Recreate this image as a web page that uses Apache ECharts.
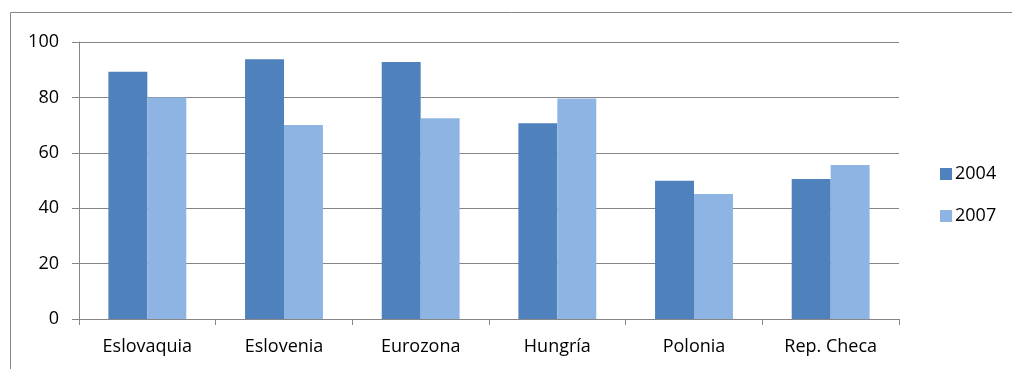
<!DOCTYPE html>
<html>
<head>
<meta charset="utf-8">
<script src="https://cdn.jsdelivr.net/npm/echarts@6/dist/echarts.min.js"></script>
<style>
  html, body { margin: 0; padding: 0; background: #fff; }
  #chart { width: 1012px; height: 369px; }
</style>
</head>
<body>
<div id="chart"></div>
<script>
const categories = ['Eslovaquia', 'Eslovenia', 'Eurozona', 'Hungría', 'Polonia', 'Rep. Checa'];
const values2004 = [89.3, 93.8, 92.8, 70.7, 49.9, 50.5];
const values2007 = [80.0, 70.0, 72.5, 79.6, 45.1, 55.6];
const seriesNames = ['2004', '2007'];

const FONT = 'Open Sans';
const GRID_GRAY = '#868686';

const chart = echarts.init(document.getElementById('chart'), null, { renderer: 'canvas' });

chart.setOption({
  animation: false,
  backgroundColor: '#ffffff',
  textStyle: { fontFamily: FONT },
  graphic: [{
    type: 'rect',
    shape: { x: 10.5, y: 12.5, width: 1100, height: 420 },
    style: { fill: 'none', stroke: GRID_GRAY, lineWidth: 1 },
    silent: true
  }],
  grid: { left: 79, right: 113, top: 42, bottom: 50, containLabel: false },
  legend: {
    orient: 'vertical',
    left: 935,
    top: 160,
    itemWidth: 12,
    itemHeight: 12,
    itemGap: 24,
    icon: 'rect',
    textStyle: { fontFamily: FONT, fontSize: 18, color: '#000', padding: [0, 0, 0, -2] },
    data: seriesNames
  },
  xAxis: {
    type: 'category',
    data: categories,
    axisLine: { lineStyle: { color: GRID_GRAY, width: 1 } },
    axisTick: { show: true, length: 6, lineStyle: { color: GRID_GRAY } },
    axisLabel: { fontFamily: FONT, fontSize: 18, color: '#000', margin: 19 }
  },
  yAxis: {
    type: 'value',
    min: 0,
    max: 100,
    interval: 20,
    axisLine: { show: true, lineStyle: { color: GRID_GRAY, width: 1 } },
    axisTick: { show: true, length: 7, lineStyle: { color: GRID_GRAY } },
    splitLine: { show: true, lineStyle: { color: GRID_GRAY, width: 1 } },
    axisLabel: { fontFamily: FONT, fontSize: 18, color: '#000', margin: 20 }
  },
  series: [
    {
      name: seriesNames[0],
      type: 'bar',
      data: values2004,
      barGap: '0%',
      barCategoryGap: '43%',
      itemStyle: { color: '#4F81BD' }
    },
    {
      name: seriesNames[1],
      type: 'bar',
      data: values2007,
      barGap: '0%',
      barCategoryGap: '43%',
      itemStyle: { color: '#8EB4E3' }
    }
  ]
});
</script>
</body>
</html>
